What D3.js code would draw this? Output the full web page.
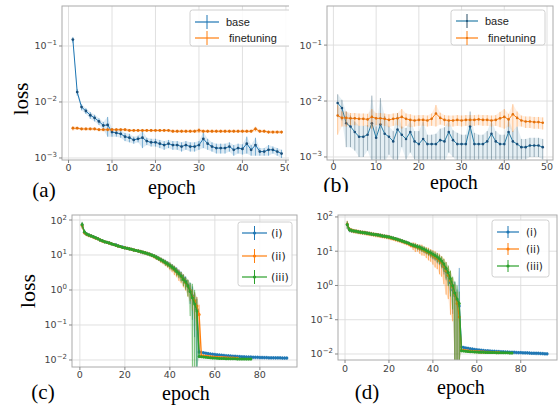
<!DOCTYPE html>
<html><head><meta charset="utf-8">
<script src="https://cdn.jsdelivr.net/npm/d3@7"></script>
<style>body{margin:0;background:#fff}svg{display:block}
.serif{font-family:"Liberation Serif","Times New Roman",Times,"DejaVu Serif",serif}</style>
</head><body>
<svg id="fig" width="559" height="412"></svg>
<script>
// ---------------- DATA ----------------
// Panel (a): epochs 1..49
const aBase = [0.13,0.015,0.0081,0.0069,0.0058,0.0052,0.0045,0.0038,0.0039,0.0029,
  0.0028,0.0027,0.0024,0.0023,0.0021,0.0022,0.0023,0.0020,0.0019,0.0019,
  0.0018,0.0017,0.0018,0.0017,0.0017,0.0016,0.0017,0.0016,0.0016,0.0017,
  0.0022,0.0018,0.0016,0.0015,0.0015,0.0015,0.0016,0.0014,0.0015,0.00145,
  0.0018,0.0014,0.0017,0.0013,0.0013,0.0014,0.0014,0.0013,0.0012];
const aBaseErr = [0.015,0.002,0.001,0.0008,0.0008,0.0007,0.0006,0.0006,0.0015,0.0005,
  0.0004,0.0004,0.0004,0.0004,0.0003,0.0003,0.0008,0.0003,0.0003,0.0003,
  0.0003,0.0003,0.0003,0.0003,0.0003,0.0003,0.0003,0.0003,0.0003,0.0003,
  0.0007,0.0004,0.0003,0.0003,0.0003,0.0003,0.0003,0.0003,0.0003,0.0003,
  0.0006,0.0003,0.0006,0.0002,0.0002,0.0003,0.0002,0.0002,0.0002];
const aFine = [0.0034,0.0034,0.0033,0.0033,0.0033,0.0033,0.0032,0.0032,0.0032,0.0032,
  0.0032,0.0032,0.0032,0.0031,0.0031,0.0031,0.0031,0.0031,0.0031,0.0031,
  0.0031,0.0031,0.0031,0.0030,0.0030,0.0030,0.0030,0.0030,0.0030,0.0031,
  0.0030,0.0030,0.0030,0.0030,0.0030,0.0030,0.0030,0.0030,0.0030,0.0030,
  0.0030,0.0030,0.0033,0.0030,0.0030,0.0029,0.0029,0.0029,0.0029];
const aFineErr = [0.0003,0.0002,0.0002,0.0002,0.0002,0.0002,0.0002,0.0002,0.0002,0.0002,
  0.0002,0.0002,0.0002,0.0002,0.0002,0.0002,0.0002,0.0002,0.0002,0.0002,
  0.0002,0.0002,0.0002,0.0002,0.0002,0.0002,0.0002,0.0002,0.0002,0.0003,
  0.0002,0.0002,0.0002,0.0002,0.0002,0.0002,0.0002,0.0002,0.0002,0.0002,
  0.0002,0.0002,0.0003,0.0002,0.0002,0.0002,0.0002,0.0002,0.0002];

// Panel (b): epochs 1..49
const bBase = [0.0092,0.0075,0.0040,0.0035,0.0028,0.0023,0.0023,0.0025,0.0040,0.0022,
  0.0038,0.0026,0.0023,0.0019,0.0031,0.0025,0.0021,0.0028,0.0019,0.0017,
  0.0021,0.0017,0.0017,0.0017,0.0020,0.0019,0.0028,0.0020,0.0017,0.0017,
  0.0017,0.0035,0.0017,0.0017,0.0017,0.0019,0.0026,0.0019,0.0017,0.0017,
  0.0028,0.0019,0.0017,0.0015,0.0015,0.0016,0.0016,0.0016,0.0015];
const bBaseErr = [0.004,0.003,0.0025,0.002,0.0015,0.0013,0.0013,0.0012,0.0085,0.0013,
  0.0075,0.0028,0.0012,0.0010,0.0030,0.0010,0.0012,0.0016,0.0010,0.0012,
  0.0022,0.0008,0.0008,0.0009,0.0012,0.0015,0.0016,0.0010,0.0010,0.0008,
  0.0008,0.0030,0.0010,0.0008,0.0008,0.0010,0.0018,0.0010,0.0008,0.0008,
  0.0020,0.0010,0.0018,0.0006,0.0006,0.0006,0.0006,0.0006,0.0006];
const bFine = [0.0055,0.0050,0.0050,0.0049,0.0049,0.0048,0.0048,0.0047,0.0052,0.0049,
  0.0049,0.0048,0.0046,0.0048,0.0049,0.0052,0.0048,0.0046,0.0045,0.0046,
  0.0046,0.0045,0.0048,0.0060,0.0050,0.0046,0.0045,0.0045,0.0046,0.0045,
  0.0046,0.0046,0.0046,0.0047,0.0046,0.0046,0.0045,0.0046,0.0049,0.0052,
  0.0047,0.0058,0.0050,0.0045,0.0043,0.0043,0.0042,0.0042,0.0041];
const bFineErr = [0.003,0.0015,0.0015,0.0012,0.0012,0.0012,0.0012,0.0012,0.002,0.0012,
  0.0012,0.0012,0.0012,0.0012,0.0012,0.002,0.0012,0.0012,0.001,0.001,
  0.001,0.001,0.0012,0.0025,0.0012,0.001,0.001,0.001,0.001,0.001,
  0.001,0.001,0.001,0.001,0.001,0.001,0.001,0.001,0.0015,0.002,
  0.0012,0.003,0.0015,0.001,0.001,0.001,0.001,0.001,0.001];

// Panel (c): (i) epochs 1..92, (ii) 1..70, (iii) 1..76 ; errors are relative
const cI = [72,45,40,37,35.5,33,31,29.5,27,25.5,
  24,23,22.5,21,20,19.5,18.5,17.5,17,16,
  15.5,15,14.5,14,13.5,13,12.5,12,11.5,11,
  10.5,10,9.3,8.7,8,7.4,6.8,6.2,5.7,5.1,
  4.6,4.1,3.6,3.1,2.6,2.2,1.8,1.4,1.0,0.7,
  0.45,0.28,0.017,0.0165,0.016,0.0156,0.0152,0.0149,0.0146,0.0143,
  0.0141,0.0139,0.0137,0.0135,0.0133,0.0131,0.013,0.0128,0.0127,0.0126,
  0.0125,0.0124,0.0123,0.0122,0.0121,0.0121,0.012,0.0119,0.0119,0.0118,
  0.0118,0.0117,0.0117,0.0116,0.0116,0.0116,0.0115,0.0115,0.0115,0.0114,
  0.0114,0.0114];
const cII = [70,44,39,36.5,35,32.5,30.5,29,27,25,
  24,23,22,21,20,19,18,17.5,16.5,16,
  15.5,15,14.5,14,13.5,13,12.5,12,11.5,11,
  10.5,9.8,9.2,8.5,7.9,7.2,6.6,6,5.4,4.9,
  4.3,3.8,3.3,2.8,2.4,2.0,1.6,1.3,0.95,0.65,
  0.5,0.35,0.2,0.0135,0.013,0.0128,0.0126,0.0124,0.0122,0.012,
  0.0119,0.0118,0.0117,0.0116,0.0115,0.0114,0.0113,0.0113,0.0112,0.0112];
const cIII = [74,46,40,37,35,33,31,29,27,25.5,
  24,23,22,21,20,19,18,17.5,16.5,16,
  15.5,15,14.5,14,13.5,13,12.5,12,11.5,11,
  10.5,9.9,9.3,8.6,8,7.3,6.7,6.1,5.5,5,
  4.5,4,3.4,2.9,2.5,2.0,1.7,1.3,0.9,0.6,
  0.4,0.25,0.0125,0.0123,0.0121,0.0119,0.0117,0.0115,0.0114,0.0113,
  0.0112,0.0111,0.011,0.011,0.0109,0.0109,0.0108,0.0108,0.0108,0.0107,
  0.0107,0.0107,0.0107,0.0106,0.0106,0.0106];
const cErrI = [0.2,0.15,0.12,0.12,0.1,0.1,0.1,0.1,0.1,0.1,
  0.1,0.1,0.1,0.1,0.1,0.1,0.1,0.1,0.1,0.1,
  0.1,0.1,0.1,0.1,0.1,0.1,0.12,0.12,0.12,0.12,
  0.12,0.12,0.12,0.15,0.15,0.15,0.15,0.18,0.18,0.2,
  0.2,0.2,0.25,0.25,0.3,0.3,0.35,0.4,0.6,0.8,
  0.9,1.2,0.15,0.12,0.12,0.12,0.12,0.12,0.12,0.12,
  0.12,0.12,0.12,0.12,0.12,0.12,0.12,0.12,0.12,0.12,
  0.12,0.12,0.12,0.12,0.12,0.12,0.12,0.12,0.12,0.12,
  0.12,0.12,0.12,0.12,0.12,0.12,0.12,0.12,0.12,0.12,
  0.12,0.12];
const cErrII = [0.2,0.15,0.12,0.12,0.1,0.1,0.1,0.1,0.1,0.1,
  0.1,0.1,0.1,0.1,0.1,0.1,0.1,0.1,0.1,0.1,
  0.1,0.1,0.1,0.1,0.1,0.1,0.12,0.12,0.12,0.12,
  0.12,0.12,0.15,0.15,0.15,0.18,0.18,0.2,0.2,0.25,
  0.25,0.3,0.3,0.35,0.35,0.4,0.4,0.5,0.5,0.6,
  0.7,0.8,0.9,0.1,0.1,0.1,0.1,0.1,0.1,0.1,
  0.1,0.1,0.1,0.1,0.1,0.1,0.1,0.1,0.1,0.1];
const cErrIII = [0.2,0.15,0.12,0.12,0.1,0.1,0.1,0.1,0.1,0.1,
  0.1,0.1,0.1,0.1,0.1,0.1,0.1,0.1,0.1,0.1,
  0.1,0.1,0.1,0.1,0.1,0.1,0.12,0.12,0.12,0.12,
  0.12,0.12,0.12,0.15,0.15,0.15,0.15,0.18,0.18,0.2,
  0.2,0.2,0.25,0.25,0.3,0.35,0.4,0.5,0.8,1.5,
  1.5,1.2,0.1,0.08,0.08,0.08,0.08,0.08,0.08,0.08,
  0.08,0.08,0.08,0.08,0.08,0.08,0.08,0.08,0.08,0.08,
  0.08,0.08,0.08,0.08,0.08,0.08];

// Panel (d)
const dI = [59,42,40,39,38,37,36.5,35.5,35,34,
  33,32,31.5,30.5,30,29,28.5,27.5,27,26,
  25,24,23,22,21,20,19,18,17,15.5,
  15,14,13.5,12.5,12,11,10,9.2,8.5,7.7,
  7,6.3,5.6,4.8,3.5,2.6,2,1.2,0.74,0.5,
  0.38,0.25,0.016,0.0155,0.015,0.0146,0.0142,0.0139,0.0136,0.0133,
  0.0131,0.0129,0.0127,0.0125,0.0124,0.0122,0.0121,0.012,0.0119,0.0118,
  0.0117,0.0116,0.0115,0.0114,0.0113,0.0112,0.0112,0.0111,0.011,0.011,
  0.0109,0.0108,0.0108,0.0107,0.0106,0.0106,0.0105,0.0105,0.0104,0.0103,
  0.0102,0.0101];
const dII = [62,44,41,39,38,37,36,35,34.5,33.5,
  32.5,32,31,30,29.5,28.5,28,27,26.5,25.5,
  24.5,23.5,22.5,21.5,20.5,19.5,18.5,17.5,16.5,15,
  14.5,13.5,13,12,11.5,10.5,9.7,9,8.2,7.4,
  6.7,6,5.3,4.5,3.6,2.7,2,1.4,0.9,0.55,
  0.3,0.12,0.013,0.0128,0.0125,0.0123,0.0121,0.0119,0.0118,0.0117,
  0.0116,0.0115,0.0114,0.0113,0.0113,0.0112,0.0111,0.0111,0.011,0.011];
const dIII = [60,43,40.5,39,38,37,36,35,34.5,33.5,
  33,32,31,30.5,29.5,29,28,27.5,26.5,26,
  25,24,23,22,21,20,19,18,17,16,
  15,14.5,13.5,13,12,11.5,10.5,9.7,9,8.2,
  7.5,6.8,6,5.2,4.2,3.2,2.4,1.6,1.0,0.6,
  0.4,0.3,0.0125,0.0122,0.012,0.0118,0.0117,0.0116,0.0115,0.0114,
  0.0113,0.0112,0.0112,0.0111,0.0111,0.011,0.011,0.011,0.0109,0.0109,
  0.0109,0.0108,0.0108,0.0108,0.0107,0.0107];
const dErrI = [0.25,0.15,0.15,0.12,0.12,0.12,0.12,0.12,0.12,0.12,
  0.12,0.12,0.12,0.12,0.12,0.12,0.12,0.12,0.12,0.12,
  0.12,0.12,0.12,0.12,0.12,0.12,0.12,0.12,0.12,0.12,
  0.15,0.15,0.15,0.18,0.18,0.2,0.2,0.2,0.25,0.25,
  0.25,0.3,0.3,0.35,0.4,0.45,0.5,0.6,0.8,1.5,
  1,12,0.15,0.12,0.12,0.12,0.12,0.12,0.12,0.12,
  0.12,0.12,0.12,0.12,0.12,0.12,0.12,0.12,0.12,0.12,
  0.12,0.12,0.12,0.12,0.12,0.12,0.12,0.12,0.12,0.12,
  0.12,0.12,0.12,0.12,0.12,0.12,0.12,0.12,0.12,0.12,
  0.12,0.12];
const dErrII = [0.25,0.15,0.15,0.15,0.15,0.15,0.15,0.15,0.15,0.15,
  0.15,0.15,0.15,0.15,0.15,0.15,0.15,0.15,0.15,0.15,
  0.15,0.15,0.15,0.15,0.15,0.15,0.15,0.15,0.15,0.15,
  0.25,0.3,0.25,0.3,0.35,0.3,0.35,0.4,0.4,0.45,
  0.5,0.5,0.6,0.6,0.7,0.8,0.8,0.9,0.9,1,
  1.2,2,0.12,0.1,0.1,0.1,0.1,0.1,0.1,0.1,
  0.1,0.1,0.1,0.1,0.1,0.1,0.1,0.1,0.1,0.1];
const dErrIII = [0.25,0.15,0.12,0.12,0.12,0.12,0.12,0.12,0.12,0.12,
  0.12,0.12,0.12,0.12,0.12,0.12,0.12,0.12,0.12,0.12,
  0.12,0.12,0.12,0.12,0.12,0.12,0.12,0.12,0.12,0.12,
  0.15,0.15,0.18,0.18,0.2,0.2,0.2,0.22,0.22,0.25,
  0.25,0.3,0.3,0.35,0.4,0.5,0.6,0.7,0.8,1.2,
  1.5,1.2,0.1,0.08,0.08,0.08,0.08,0.08,0.08,0.08,
  0.08,0.08,0.08,0.08,0.08,0.08,0.08,0.08,0.08,0.08,
  0.08,0.08,0.08,0.08,0.08,0.08];

const xTicksAB = [0,10,20,30,40,50];
const xTicksCD = [0,20,40,60,80];
const yTicksAB = [1e-1,1e-2,1e-3];
const yTicksCD = [1e2,1e1,1e0,1e-1,1e-2];
const legendAB = ["base"," finetuning"];
const legendCD = ["(i)","(ii)","(iii)"];

// ---------------- DRAW ----------------
const C = {blue:"#1f77b4", orange:"#ff7f0e", green:"#2ca02c"};
const svg = d3.select("#fig");
const defs = svg.append("defs");
const SANS = "DejaVu Sans, sans-serif";
const LSANS = "Liberation Sans, Arial, sans-serif";

function supText(sel, exp){
  sel.append("tspan").text("10");
  sel.append("tspan").attr("dy",-4).attr("font-size",7).text(String(exp).replace("-","\u2212"));
}

function panel(o){
  const root = svg.append("g");
  if(o.clip){
    defs.append("clipPath").attr("id","cp"+o.id).append("rect")
      .attr("x",o.clip[0]).attr("y",o.clip[1]).attr("width",o.clip[2]).attr("height",o.clip[3]);
    root.attr("clip-path",`url(#cp${o.id})`);
  }
  const b = o.box;
  const x = d3.scaleLinear().domain(o.xDomain).range([b.x0,b.x1]);
  const y = d3.scaleLog().domain(o.yDomain).range([b.y1,b.y0]);
  const ymin = o.yDomain[0], ymax = o.yDomain[1];
  const yc = v => v<=ymin ? b.y1+2 : (v>=ymax ? b.y0-2 : y(v));

  root.append("rect").attr("x",b.x0).attr("y",b.y0).attr("width",b.x1-b.x0).attr("height",b.y1-b.y0).attr("fill","#fff");
  root.append("g").selectAll("line").data(o.xTicks).join("line")
    .attr("x1",d=>x(d)).attr("x2",d=>x(d)).attr("y1",b.y0).attr("y2",b.y1)
    .attr("stroke","#dcdcdc").attr("stroke-width",0.9);
  root.append("g").selectAll("line").data(o.yTicks).join("line")
    .attr("x1",b.x0).attr("x2",b.x1).attr("y1",d=>y(d)).attr("y2",d=>y(d))
    .attr("stroke","#dcdcdc").attr("stroke-width",0.9);

  defs.append("clipPath").attr("id","pb"+o.id).append("rect")
    .attr("x",b.x0).attr("y",b.y0).attr("width",b.x1-b.x0).attr("height",b.y1-b.y0);
  const plot = root.append("g").attr("clip-path",`url(#pb${o.id})`);

  o.series.forEach(s=>{
    const pts = s.values.map((v,i)=>{
      const e = s.rel ? v*s.err[i] : s.err[i];
      return {ep:i+1, v, hi:v+e, lo:v-e};
    });
    plot.append("path").datum(pts)
      .attr("d", d3.area().x(d=>x(d.ep)).y0(d=>yc(d.lo)).y1(d=>yc(d.hi)))
      .attr("fill",s.color).attr("fill-opacity",o.bandOp);
    plot.append("g").selectAll("line").data(pts).join("line")
      .attr("x1",d=>x(d.ep)).attr("x2",d=>x(d.ep))
      .attr("y1",d=>yc(d.lo)).attr("y2",d=>yc(d.hi))
      .attr("stroke",s.barColor||s.color).attr("stroke-width",o.bw).attr("stroke-opacity",o.barOp);
    plot.append("path").datum(pts)
      .attr("d", d3.line().x(d=>x(d.ep)).y(d=>yc(d.v)))
      .attr("fill","none").attr("stroke",s.color).attr("stroke-width",o.lw);
    plot.append("g").selectAll("circle").data(pts).join("circle")
      .attr("cx",d=>x(d.ep)).attr("cy",d=>yc(d.v)).attr("r",o.mr)
      .attr("fill",s.markColor||s.color);
  });

  root.append("rect").attr("x",b.x0).attr("y",b.y0).attr("width",b.x1-b.x0).attr("height",b.y1-b.y0)
    .attr("fill","none").attr("stroke","#aaa").attr("stroke-width",1);
  root.append("g").selectAll("line").data(o.yTicks).join("line")
    .attr("x1",b.x0-3).attr("x2",b.x0).attr("y1",d=>y(d)).attr("y2",d=>y(d)).attr("stroke","#888");
  root.append("g").selectAll("line").data(o.xTicks).join("line")
    .attr("x1",d=>x(d)).attr("x2",d=>x(d)).attr("y1",b.y1).attr("y2",b.y1+3).attr("stroke","#888");
  root.append("g").selectAll("text").data(o.xTicks).join("text")
    .attr("x",d=>x(d)).attr("y",b.y1+o.xLabDy).attr("text-anchor","middle")
    .attr("font-family",SANS).attr("font-size",9.5).attr("fill","#444").text(d=>d);
  o.yTicks.forEach(t=>{
    const tx = root.append("text").attr("x",b.x0-5).attr("y",y(t)+3.5)
      .attr("text-anchor","end").attr("font-family",SANS).attr("font-size",9.5).attr("fill","#444");
    supText(tx, Math.round(Math.log10(t)));
  });

  const L = o.legend;
  root.append("rect").attr("x",L.x0).attr("y",L.y0).attr("width",L.x1-L.x0).attr("height",L.y1-L.y0)
    .attr("rx",2.5).attr("fill","#fff").attr("fill-opacity",0.85).attr("stroke","#d0d0d0");
  o.series.forEach((s,i)=>{
    const yy = L.rows[i];
    const hx = (L.h0+L.h1)/2;
    root.append("line").attr("x1",L.h0).attr("x2",L.h1).attr("y1",yy).attr("y2",yy)
      .attr("stroke",s.color).attr("stroke-width",1.2);
    root.append("line").attr("x1",hx).attr("x2",hx).attr("y1",yy-L.bar).attr("y2",yy+L.bar)
      .attr("stroke",s.barColor||s.color).attr("stroke-width",1);
    root.append("circle").attr("cx",hx).attr("cy",yy).attr("r",L.mr).attr("fill",s.markColor||s.color);
    root.append("text").attr("x",L.tx).attr("y",yy+4).attr("font-family",L.font)
      .attr("font-size",L.fs).attr("fill","#222").style("white-space","pre").text(o.names[i]);
  });

  o.texts.forEach(t=>{
    const el = root.append("text").attr("class","serif").attr("font-size",t.fs).attr("fill","#000")
      .attr("text-anchor","middle").text(t.s);
    if(t.rot){ el.attr("transform",`translate(${t.x},${t.y}) rotate(-90)`); }
    else el.attr("x",t.x).attr("y",t.y);
  });
}

panel({id:"a", clip:[0,0,289,205],
  box:{x0:62,x1:292,y0:6,y1:160}, xDomain:[-1.5,51.4], yDomain:[0.00092,0.518],
  xTicks:xTicksAB, yTicks:yTicksAB, xLabDy:10.5, lw:1, mr:1.4, bw:0.8, barOp:0.7, bandOp:0.15,
  series:[{values:aBase,err:aBaseErr,color:C.blue,markColor:"#1a4f7a"},
          {values:aFine,err:aFineErr,color:C.orange,markColor:"#e0700c"}],
  names:legendAB,
  legend:{x0:190,x1:300,y0:10,y1:46,rows:[22,38],h0:195,h1:219,bar:7,mr:0,tx:226,fs:11,font:LSANS},
  texts:[{s:"loss",x:28,y:99,fs:21,rot:true},{s:"epoch",x:172,y:194,fs:20},{s:"(a)",x:44,y:197,fs:21}]
});
panel({id:"b", clip:[289,0,270,192],
  box:{x0:327,x1:553,y0:6,y1:160}, xDomain:[-1.5,51.4], yDomain:[0.000883,0.50],
  xTicks:xTicksAB, yTicks:yTicksAB, xLabDy:9.5, lw:1, mr:1.3, bw:0.7, barOp:0.6, bandOp:0.12,
  series:[{values:bBase,err:bBaseErr,color:"#2a7fa8",barColor:"#2b4f66",markColor:"#1a4f7a"},
          {values:bFine,err:bFineErr,color:C.orange,markColor:"#e0700c"}],
  names:legendAB,
  legend:{x0:451,x1:545,y0:10,y1:45,rows:[21,38],h0:456,h1:478,bar:7,mr:1,tx:485,fs:11,font:LSANS},
  texts:[{s:"epoch",x:454,y:189,fs:20},{s:"(b)",x:336,y:192,fs:22}]
});
panel({id:"c", clip:null,
  box:{x0:72,x1:297,y0:215,y1:367}, xDomain:[-3.5,96.5], yDomain:[0.0063,139],
  xTicks:xTicksCD, yTicks:yTicksCD, xLabDy:11, lw:1.3, mr:1.5, bw:0.8, barOp:0.75, bandOp:0.15,
  series:[{values:cI,err:cErrI,rel:true,color:C.blue},
          {values:cII,err:cErrII,rel:true,color:C.orange},
          {values:cIII,err:cErrIII,rel:true,color:C.green}],
  names:legendCD,
  legend:{x0:238,x1:292,y0:222,y1:286,rows:[233,256,277],h0:242,h1:267,bar:7,mr:1.6,tx:271,fs:11,font:SANS},
  texts:[{s:"loss",x:35,y:291,fs:22,rot:true},{s:"epoch",x:186,y:400,fs:20},{s:"(c)",x:43,y:399,fs:21}]
});
panel({id:"d", clip:null,
  box:{x0:338,x1:557,y0:215,y1:360}, xDomain:[-3.2,96.5], yDomain:[0.00668,114],
  xTicks:xTicksCD, yTicks:yTicksCD, xLabDy:11.5, lw:1.3, mr:1.5, bw:0.8, barOp:0.75, bandOp:0.15,
  series:[{values:dI,err:dErrI,rel:true,color:C.blue},
          {values:dII,err:dErrII,rel:true,color:C.orange},
          {values:dIII,err:dErrIII,rel:true,color:C.green}],
  names:legendCD,
  legend:{x0:492,x1:549,y0:220,y1:277,rows:[232,249,266],h0:497,h1:519,bar:6,mr:1.6,tx:526,fs:10.5,font:SANS},
  texts:[{s:"epoch",x:461,y:394,fs:20},{s:"(d)",x:367,y:399,fs:21}]
});
</script>
</body></html>
